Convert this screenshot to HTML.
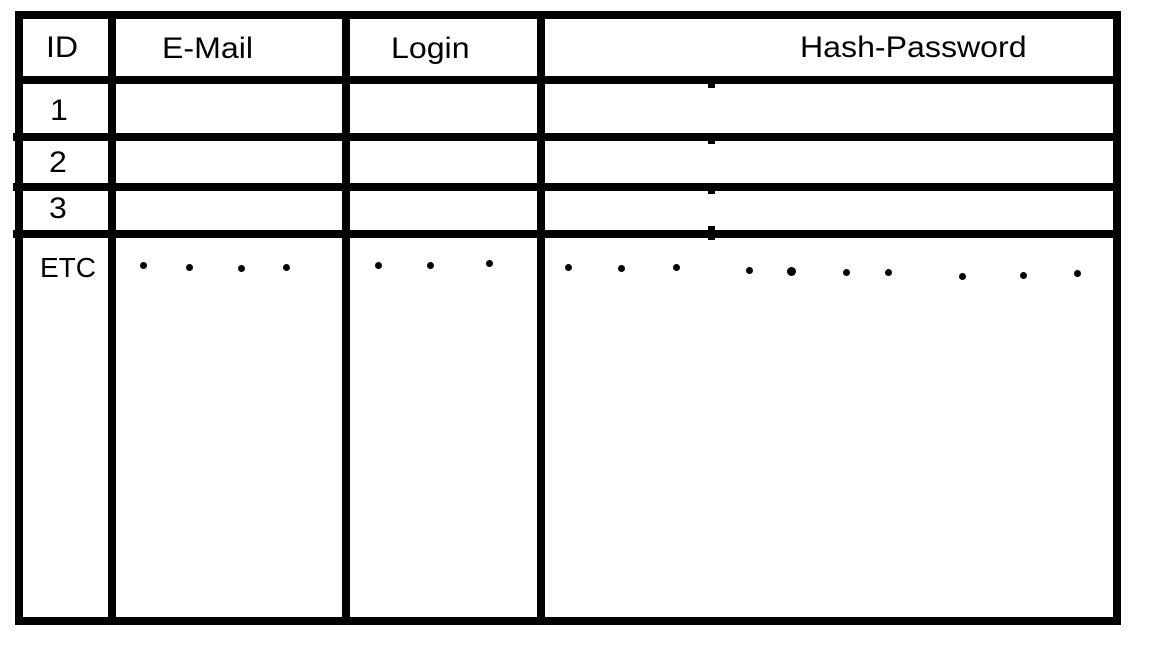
<!DOCTYPE html>
<html><head><style>
body{margin:0;width:1152px;height:648px;background:#fff;position:relative;overflow:hidden;font-family:"Liberation Sans",sans-serif}
.b{position:absolute;background:#000}
.t{position:absolute;font-size:30px;color:#000;line-height:1;transform:scaleX(1.07);transform-origin:0 0}
.d{position:absolute;width:7px;height:7px;border-radius:50%;background:#000}
</style></head><body>
<div class="b" style="left:15px;top:11px;width:1106px;height:8px"></div>
<div class="b" style="left:15px;top:617px;width:1106px;height:8px"></div>
<div class="b" style="left:15px;top:11px;width:8px;height:614px"></div>
<div class="b" style="left:1113px;top:11px;width:8px;height:614px"></div>
<div class="b" style="left:108px;top:11px;width:8px;height:614px"></div>
<div class="b" style="left:342px;top:11px;width:8px;height:614px"></div>
<div class="b" style="left:537px;top:11px;width:8px;height:614px"></div>
<div class="b" style="left:15px;top:76px;width:1106px;height:8px"></div>
<div class="b" style="left:13px;top:133px;width:1108px;height:8px"></div>
<div class="b" style="left:13px;top:183px;width:1108px;height:8px"></div>
<div class="b" style="left:13px;top:230px;width:1108px;height:8px"></div>
<div class="b" style="left:708px;top:84px;width:7px;height:4px"></div>
<div class="b" style="left:708px;top:141px;width:7px;height:3px"></div>
<div class="b" style="left:708px;top:191px;width:7px;height:3px"></div>
<div class="b" style="left:708px;top:226px;width:7px;height:14px"></div>
<div class="t" style="left:46px;top:33px">ID</div>
<div class="t" style="left:162px;top:34px">E-Mail</div>
<div class="t" style="left:391px;top:34px">Login</div>
<div class="t" style="left:800px;top:33px">Hash-Password</div>
<div class="t" style="left:50px;top:96px">1</div>
<div class="t" style="left:49px;top:148px">2</div>
<div class="t" style="left:49px;top:194px">3</div>
<div class="t" style="left:40px;top:254px;font-size:28px;transform:none">ETC</div>
<div class="d" style="left:140px;top:262px"></div>
<div class="d" style="left:186px;top:264px"></div>
<div class="d" style="left:238px;top:265px"></div>
<div class="d" style="left:283px;top:264px"></div>
<div class="d" style="left:375px;top:262px"></div>
<div class="d" style="left:427px;top:262px"></div>
<div class="d" style="left:486px;top:260px"></div>
<div class="d" style="left:565px;top:264px"></div>
<div class="d" style="left:618px;top:265px"></div>
<div class="d" style="left:673px;top:264px"></div>
<div class="d" style="left:746px;top:267px"></div>
<div class="d" style="left:787px;top:267px;width:9px;height:9px"></div>
<div class="d" style="left:843px;top:269px"></div>
<div class="d" style="left:885px;top:269px"></div>
<div class="d" style="left:959px;top:273px"></div>
<div class="d" style="left:1020px;top:272px"></div>
<div class="d" style="left:1074px;top:270px"></div>
</body></html>
